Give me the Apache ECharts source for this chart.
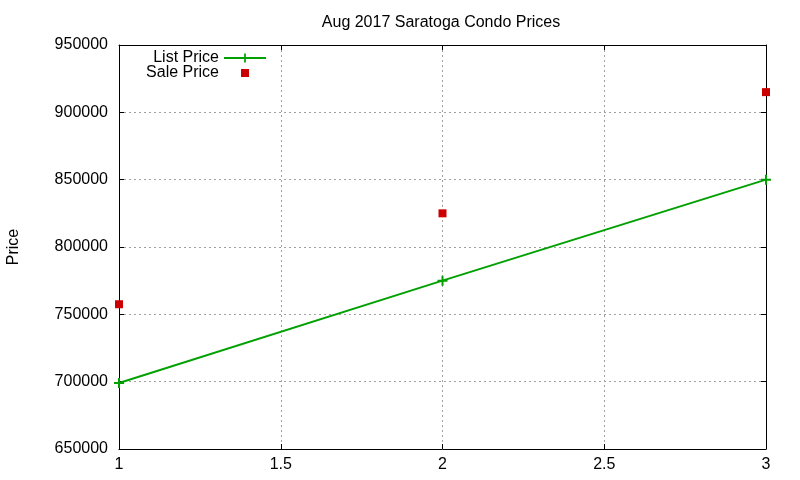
<!DOCTYPE html>
<html>
<head>
<meta charset="utf-8">
<script src="https://cdn.jsdelivr.net/npm/echarts@6/dist/echarts.min.js"></script>
<style>
html,body{margin:0;padding:0;background:#fff;}
#chart{width:800px;height:480px;}
</style>
</head>
<body>
<div id="chart"></div>
<script>
var titleText = 'Aug 2017 Saratoga Condo Prices';
var xValues = [1, 2, 3];
var listPrice = [699000, 775000, 850000];
var salePrice = [757500, 825000, 915000];
var seriesNames = ['List Price', 'Sale Price'];
var yAxisName = 'Price';

var FONT = 'Liberation Sans, Arial, sans-serif';
var FS = 16;
var GREEN = '#00a000';
var RED = '#cc0000';
var PLUS = 'path://M-1,-0.2H1V0.2H-1Z M-0.2,-1H0.2V1H-0.2Z';
var SQUARE_ICON = 'path://M0,0L0.01,0L0,0.01Z M11,11L10.99,11L11,10.99Z M1.5,1.5H9.5V9.5H1.5Z';

function pairs(xs, ys) { return xs.map(function (x, i) { return [x, ys[i]]; }); }

var chart = echarts.init(document.getElementById('chart'), null, {renderer: 'canvas'});
var splitStyle = {show: true, lineStyle: {color: '#a0a0a0', type: [2, 3], width: 1}};
var axisLineStyle = {show: true, lineStyle: {color: '#000', width: 1}};
var tickStyle = {show: true, inside: true, length: 5, lineStyle: {color: '#000', width: 1}};
var labelStyle = {color: '#000', fontSize: FS, fontFamily: FONT};

chart.setOption({
  animation: false,
  backgroundColor: '#fff',
  title: {
    text: titleText, left: 436, top: 10, textAlign: 'center',
    textStyle: {color: '#000', fontSize: FS, fontWeight: 'normal', fontFamily: FONT}
  },
  legend: {
    orient: 'vertical', align: 'right', right: 528, top: 45,
    itemWidth: 42, itemHeight: 11, itemGap: -1,
    textStyle: {color: '#000', fontSize: FS, fontFamily: FONT},
    data: [
      {name: seriesNames[0]},
      {name: seriesNames[1], icon: SQUARE_ICON}
    ]
  },
  grid: {left: 119, right: 34, top: 45, bottom: 31, containLabel: false, outerBoundsMode: 'none'},
  xAxis: [{
    type: 'value', min: 1, max: 3, interval: 0.5, position: 'bottom',
    axisLine: axisLineStyle, axisTick: tickStyle,
    axisLabel: Object.assign({margin: 8}, labelStyle),
    splitLine: splitStyle
  }, {
    type: 'value', min: 1, max: 3, interval: 0.5, position: 'top',
    axisLine: axisLineStyle, axisTick: tickStyle,
    axisLabel: {show: false}, splitLine: {show: false}
  }],
  yAxis: [{
    type: 'value', min: 650000, max: 950000, interval: 50000, position: 'left',
    name: yAxisName, nameLocation: 'middle', nameGap: 97, nameRotate: 90,
    nameTextStyle: {color: '#000', fontSize: FS, fontFamily: FONT},
    axisLine: axisLineStyle, axisTick: tickStyle,
    axisLabel: Object.assign({margin: 11, formatter: function (v) { return String(v); }}, labelStyle),
    splitLine: splitStyle
  }, {
    type: 'value', min: 650000, max: 950000, interval: 50000, position: 'right',
    axisLine: axisLineStyle, axisTick: tickStyle,
    axisLabel: {show: false}, splitLine: {show: false}
  }],
  series: [{
    name: seriesNames[0], type: 'line',
    data: pairs(xValues, listPrice),
    symbol: PLUS, symbolSize: 10, showSymbol: true, clip: false,
    lineStyle: {color: GREEN, width: 2},
    itemStyle: {color: GREEN}
  }, {
    name: seriesNames[1], type: 'scatter',
    data: pairs(xValues, salePrice),
    symbol: 'rect', symbolSize: 8, clip: false,
    itemStyle: {color: RED, opacity: 1}
  }]
});
</script>
</body>
</html>
